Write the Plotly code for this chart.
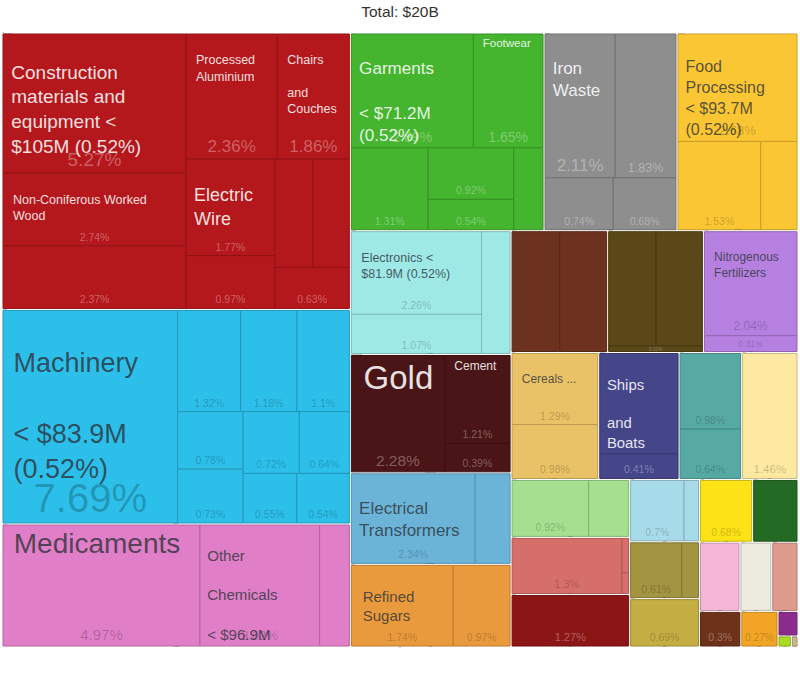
import plotly.graph_objects as go

# ---------------- data ----------------
title_text = "Total: $20B"

sector_names = [
    "Metals & Construction", "Machinery", "Chemicals", "Textiles", "Metal Waste",
    "Food Processing", "Electronics", "Precious Metals & Cement", "Electrical Equipment",
    "Sugars", "Group 11", "Group 12", "Fertilizers", "Cereals", "Transportation",
    "Group 16", "Group 17", "Group 18", "Group 19", "Group 20", "Group 21", "Group 22",
    "Group 23", "Group 24", "Group 25", "Group 26", "Group 27", "Group 28", "Group 29",
    "Group 30", "Group 31", "Group 32", "Group 33",
]
sector_colors = [
    "#b5181c", "#2cbfe9", "#e07fc7", "#45b52f", "#8e8e8e", "#fbc633", "#9ee9e6",
    "#4a1516", "#6bb4d8", "#e99a3d", "#6c321e", "#5b4819", "#b680e0", "#e9c166",
    "#45458a", "#57aaa4", "#fde9a2", "#a4e090", "#d66f69", "#8c1515", "#a8dbe9",
    "#a39441", "#c4ad43", "#fde316", "#236b24", "#f5b7d7", "#edeae0", "#e09b8f",
    "#6e3119", "#f3a625", "#8b2b8b", "#aadd22", "#c9b98b",
]
sector_tone = [
    "light", "dark", "dark", "light", "light", "dark", "dark", "light", "dark", "dark",
    "light", "light", "dark", "dark", "light", "dark", "dark", "dark", "dark", "light",
    "dark", "dark", "dark", "dark", "light", "dark", "dark", "dark", "light", "dark",
    "light", "dark", "dark",
]

# products: parent sector index, share of total (%), label, share label
prod_sector = [
    0, 0, 0, 0, 0, 0, 0, 0, 0, 0,
    1, 1, 1, 1, 1, 1, 1, 1, 1, 1,
    2, 2, 2,
    3, 3, 3, 3, 3, 3,
    4, 4, 4, 4,
    5, 5, 5,
    6, 6, 6,
    7, 7, 7,
    8, 8,
    9, 9,
    10, 10,
    11, 11, 11,
    12, 12,
    13, 13,
    14, 14,
    15, 15,
    16,
    17, 17,
    18, 18, 18,
    19,
    20, 20,
    21, 21,
    22, 23, 24, 25, 26, 27, 28, 29, 30, 31, 32,
]
prod_value = [
    5.27, 2.74, 2.37, 2.36, 1.86, 1.77, 0.97, 0.86, 0.81, 0.63,
    7.69, 1.32, 1.18, 1.10, 0.78, 0.73, 0.72, 0.64, 0.55, 0.54,
    4.97, 3.02, 0.75,
    2.89, 1.65, 1.31, 0.92, 0.54, 0.50,
    2.11, 1.83, 0.74, 0.68,
    2.68, 1.53, 0.67,
    2.26, 1.07, 0.73,
    2.28, 1.21, 0.39,
    2.34, 0.66,
    1.74, 0.97,
    1.21, 1.19,
    1.15, 1.12, 0.11,
    2.04, 0.31,
    1.29, 0.98,
    1.67, 0.41,
    0.98, 0.64,
    1.46,
    0.92, 0.48,
    1.30, 0.05, 0.03,
    1.27,
    0.70, 0.19,
    0.61, 0.20,
    0.69, 0.68, 0.58, 0.57, 0.45, 0.37, 0.30, 0.27, 0.10, 0.03, 0.015,
]
prod_name = [
    "Construction\nmaterials and\nequipment <\n$105M (0.52%)", "Non-Coniferous Worked\nWood", "",
    "Processed\nAluminium", "Chairs\n\nand\nCouches", "Electric\nWire", "", "", "", "",
    "Machinery\n\n< $83.9M\n(0.52%)", "", "", "", "", "", "", "", "", "",
    "Medicaments", "Other\n\nChemicals\n\n< $96.9M", "",
    "Garments\n\n< $71.2M\n(0.52%)", "Footwear", "", "", "", "",
    "Iron\nWaste", "", "", "",
    "Food\nProcessing\n< $93.7M\n(0.52%)", "", "",
    "Electronics <\n$81.9M (0.52%)", "", "",
    "Gold", "Cement", "",
    "Electrical\nTransformers", "",
    "Refined\nSugars", "",
    "", "",
    "", "", "",
    "Nitrogenous\nFertilizers", "",
    "Cereals ...", "",
    "Ships\n\nand\nBoats", "",
    "", "",
    "",
    "", "",
    "", "", "",
    "",
    "", "",
    "", "",
    "", "", "", "", "", "", "", "", "", "", "",
]
prod_share = [
    "5.27%", "2.74%", "2.37%", "2.36%", "1.86%", "1.77%", "0.97%", "", "", "0.63%",
    "7.69%", "1.32%", "1.18%", "1.1%", "0.78%", "0.73%", "0.72%", "0.64%", "0.55%", "0.54%",
    "4.97%", "3.02%", "",
    "2.89%", "1.65%", "1.31%", "0.92%", "0.54%", "",
    "2.11%", "1.83%", "0.74%", "0.68%",
    "2.68%", "1.53%", "",
    "2.26%", "1.07%", "",
    "2.28%", "1.21%", "0.39%",
    "2.34%", "",
    "1.74%", "0.97%",
    "", "",
    "", "", "0.11%",
    "2.04%", "0.31%",
    "1.29%", "0.98%",
    "", "0.41%",
    "0.98%", "0.64%",
    "1.46%",
    "0.92%", "",
    "1.3%", "", "",
    "1.27%",
    "0.7%", "",
    "0.61%", "",
    "0.69%", "0.68%", "", "", "", "", "0.3%", "0.27%", "", "", "",
]

# ---------------- styles ----------------
FONT = "Liberation Sans, Arial, Helvetica, sans-serif"
name_size = {
    "Construction": 19, "Non-Coniferous": 12.5, "Processed": 12.5, "Chairs": 12.5,
    "Electric": 18, "Machinery": 27, "Medicaments": 28, "Other": 18, "Garments": 19,
    "Footwear": 11.5, "Iron": 17, "Food": 17, "Electronics": 12.5, "Gold": 33,
    "Cement": 12, "Electrical": 17, "Refined": 15, "Nitrogenous": 12, "Cereals": 12,
    "Ships": 18.5,
}
share_size = {"5.27%": 19, "7.69%": 40, "2.36%": 17, "1.86%": 17, "2.11%": 17,
              "4.97%": 15, "2.28%": 15.5, "3.02%": 13, "2.89%": 14, "1.65%": 14,
              "2.68%": 13, "1.83%": 12.5, "2.04%": 12, "1.46%": 11.5, "1.3%": 11,
              "1.27%": 11}
no_top_gap = {"Medicaments", "Footwear", "Gold", "Cement"}


def darken(hex_color, f=0.8):
    h = hex_color.lstrip("#")
    r, g, b = (int(h[i:i + 2], 16) for i in (0, 2, 4))
    return f"rgb({int(r * f)},{int(g * f)},{int(b * f)})"


def first_word(name):
    return name.split("\n")[0].split(" ")[0] if name else ""


def fmt_name(name, size):
    if not name:
        return ""
    n_sp = max(1, round(7 / (0.278 * size)))
    pad = "&nbsp;" * n_sp
    txt = "<br>".join(pad + ln for ln in name.split("\n"))
    if first_word(name) not in no_top_gap:
        txt = "&nbsp;<br>" + txt
    return txt


n_sec = len(sector_names)
ids = ["root"] + [f"s{i}" for i in range(n_sec)] + [f"p{j}" for j in range(len(prod_value))]
labels = ["Total"] + sector_names + [
    (prod_name[j].replace("\n\n", " ").replace("\n", " ") or f"{sector_names[prod_sector[j]]} item {j + 1}")
    for j in range(len(prod_value))
]
parents = [""] + ["root"] * n_sec + [f"s{s}" for s in prod_sector]
values = [0] + [0] * n_sec + prod_value

fill = ["white"] + ["white"] * n_sec + [sector_colors[s] for s in prod_sector]
line_c = ["white"] + ["white"] * n_sec + [darken(sector_colors[s]) for s in prod_sector]
line_w = [0] + [0] * n_sec + [1] * len(prod_value)

prod_name_sz = [name_size.get(first_word(n), 12) for n in prod_name]
name_text = [""] + [""] * n_sec + [fmt_name(n, s) for n, s in zip(prod_name, prod_name_sz)]
name_sz = [10] + [10] * n_sec + prod_name_sz
name_col = ["#444"] + ["#444"] * n_sec + [
    "rgba(255,255,255,0.88)" if sector_tone[s] == "light" else "rgba(45,50,58,0.80)"
    for s in prod_sector
]

share_text = [""] + [""] * n_sec + prod_share
share_sz = [10] + [10] * n_sec + [share_size.get(t, 10.5) for t in prod_share]
share_col = ["#444"] + ["#444"] * n_sec + [
    "rgba(255,255,255,0.33)" if sector_tone[s] == "light" else "rgba(0,0,0,0.22)"
    for s in prod_sector
]

common = dict(
    ids=ids, labels=labels, parents=parents, values=values,
    branchvalues="remainder", sort=True,
    tiling=dict(packing="squarify", squarifyratio=1.618, pad=0),
    pathbar=dict(visible=False),
    root=dict(color="rgba(0,0,0,0)"),
    textinfo="text",
    hoverinfo="label+value",
)

fig = go.Figure()
fig.add_trace(go.Treemap(
    **common,
    text=name_text,
    textposition="top left",
    textfont=dict(family=FONT, size=name_sz, color=name_col),
    marker=dict(colors=fill, line=dict(color=line_c, width=line_w),
                pad=dict(t=1, l=1, r=1, b=1), depthfade=False),
))
fig.add_trace(go.Treemap(
    **common,
    text=share_text,
    textposition="bottom center",
    textfont=dict(family=FONT, size=share_sz, color=share_col),
    marker=dict(colors=["rgba(0,0,0,0)"] * len(ids), line=dict(width=0),
                pad=dict(t=1, l=1, r=1, b=1), depthfade=False),
))

fig.update_layout(
    width=800, height=678,
    margin=dict(l=1, r=1, t=32, b=30),
    paper_bgcolor="white",
    title=dict(text=title_text, x=0.5, xanchor="center", y=1 - 12 / 678, yanchor="middle",
               font=dict(family=FONT, size=15.5, color="#333")),
    showlegend=False,
)

fig.write_html(
    "out.html",
    config={"displayModeBar": False},
    post_script="document.body.style.margin='0';document.body.style.padding='0';",
)
